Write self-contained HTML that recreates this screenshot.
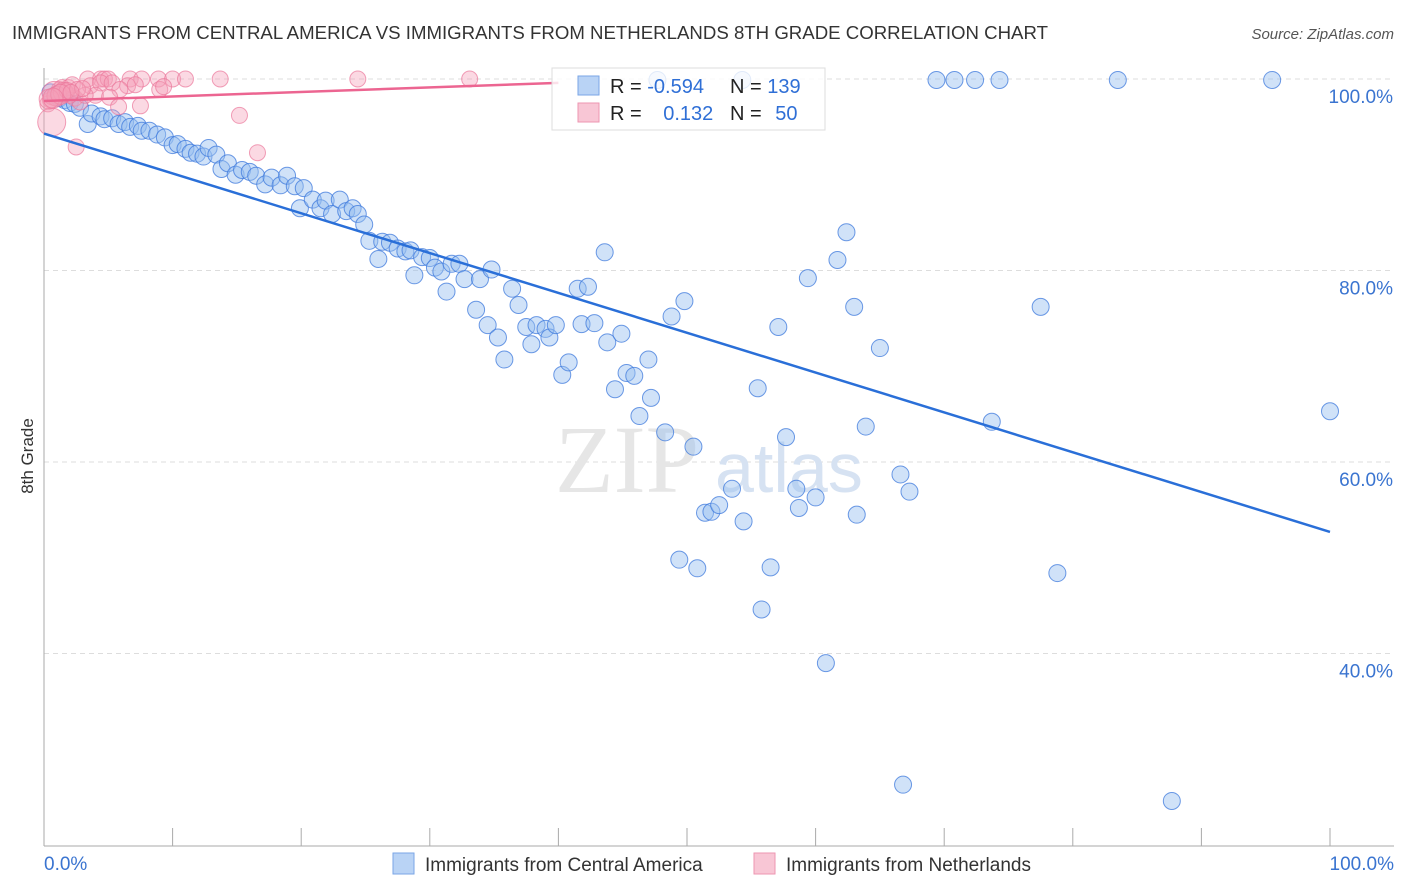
<!DOCTYPE html>
<html><head><meta charset="utf-8"><style>
body{margin:0;background:#fff;font-family:"Liberation Sans",sans-serif;}
#wrap{position:relative;width:1406px;height:892px;overflow:hidden;}
</style></head><body>
<div id="wrap">
<svg id="svg" width="1406" height="892" xmlns="http://www.w3.org/2000/svg">
<text x="12" y="39" font-size="18" fill="#333" textLength="1036" lengthAdjust="spacingAndGlyphs">IMMIGRANTS FROM CENTRAL AMERICA VS IMMIGRANTS FROM NETHERLANDS 8TH GRADE CORRELATION CHART</text>
<text x="1394" y="39" font-size="15" fill="#555" font-style="italic" text-anchor="end">Source: ZipAtlas.com</text>
<text x="33" y="456" font-size="17" fill="#333" text-anchor="middle" transform="rotate(-90 33 456)">8th Grade</text>
<g id="grid"></g>
<text x="555" y="492" font-size="96" fill="#e6e6e6" font-family="Liberation Serif">ZIP</text>
<text x="715" y="492" font-size="70" fill="#d6e2f2">atlas</text>
<g id="marks"></g>
<g>
<rect x="552" y="68" width="273" height="62" fill="rgba(255,255,255,0.8)" stroke="#ddd"/>
<rect x="578" y="76" width="21" height="19" fill="#b9d3f5" stroke="#7aa6e6"/>
<rect x="578" y="103" width="21" height="19" fill="#f8c6d5" stroke="#ee96b1"/>
<text x="610" y="93" font-size="20" fill="#222">R = <tspan fill="#2f6fd6">-0.594</tspan></text>
<text x="730" y="93" font-size="20" fill="#222">N = <tspan fill="#2f6fd6">139</tspan></text>
<text x="610" y="120" font-size="20" fill="#222">R = <tspan fill="#2f6fd6" dx="16">0.132</tspan></text>
<text x="730" y="120" font-size="20" fill="#222">N = <tspan fill="#2f6fd6" dx="8">50</tspan></text>
</g>
<g>
<rect x="393" y="853" width="21" height="21" fill="#b9d3f5" stroke="#7aa6e6"/>
<text x="425" y="871" font-size="19" fill="#333">Immigrants from Central America</text>
<rect x="754" y="853" width="21" height="21" fill="#f8c6d5" stroke="#ee96b1"/>
<text x="786" y="871" font-size="19" fill="#333">Immigrants from Netherlands</text>
</g>
</svg>
</div>
<script>
const blueX=[0.5,0.9,1.2,1.6,2.0,2.4,2.8,3.4,3.7,4.4,4.7,5.3,5.8,6.3,6.7,7.3,7.6,8.2,8.8,9.4,10.0,10.4,11.0,11.4,11.9,12.4,12.8,13.4,13.8,14.3,14.9,15.4,16.0,16.5,17.2,17.7,18.4,18.9,19.5,20.2,19.9,20.9,21.5,21.9,22.4,23.0,23.5,24.0,24.4,24.9,25.3,26.0,26.3,26.9,27.5,28.1,28.5,28.8,29.4,30.0,30.4,30.9,31.3,31.7,32.3,32.7,33.6,33.9,34.5,34.8,35.3,35.8,36.4,36.9,37.5,37.9,38.3,39.0,39.3,39.8,40.3,40.8,41.5,41.8,42.3,42.8,43.6,43.8,44.4,44.9,45.3,45.9,46.3,47.0,47.2,48.3,48.8,49.4,49.8,50.5,50.8,51.4,51.9,52.5,53.5,54.4,55.5,55.8,56.5,57.1,57.7,58.5,58.7,59.4,60.0,60.8,61.7,62.4,63.0,63.2,63.9,65.0,66.6,66.8,67.3,69.4,70.8,72.4,74.3,73.7,77.5,78.8,83.5,87.7,95.5,100,47.7,54.3];
const blueY=[98.6,98.3,98.0,97.8,97.5,97.4,97.0,95.3,96.4,96.1,95.8,95.9,95.3,95.5,95.0,95.1,94.6,94.6,94.2,93.9,93.1,93.2,92.7,92.3,92.2,91.9,92.8,92.1,90.6,91.2,90.0,90.5,90.3,89.9,89.0,89.7,88.9,89.9,88.8,88.6,86.5,87.4,86.5,87.3,85.9,87.4,86.2,86.5,85.9,84.8,83.1,81.2,83.0,82.9,82.3,82.0,82.1,79.5,81.4,81.3,80.3,79.9,77.8,80.7,80.7,79.1,75.9,79.1,74.3,80.1,73.0,70.7,78.1,76.4,74.1,72.3,74.3,73.9,73.0,74.3,69.1,70.4,78.1,74.4,78.3,74.5,81.9,72.5,67.6,73.4,69.3,69.0,64.8,70.7,66.7,63.1,75.2,49.8,76.8,61.6,48.9,54.7,54.8,55.5,57.2,53.8,67.7,44.6,49.0,74.1,62.6,57.2,55.2,79.2,56.3,39.0,81.1,84.0,76.2,54.5,63.7,71.9,58.7,26.3,56.9,99.9,99.9,99.9,99.9,64.2,76.2,48.4,99.9,24.6,99.9,65.3,99.9,99.9];
const pinkX=[3.4,4.4,4.7,5.0,6.7,7.6,8.9,10.0,11.0,13.7,24.4,33.1,3.6,4.4,5.3,6.5,7.1,9.0,9.3,5.9,4.0,5.1,7.5,2.4,2.8,1.2,1.6,2.0,0.9,0.5,0.3,0.6,2.5,15.2,16.6,1.9,3.2,5.8,1.4,2.2,0.8,1.0,1.5,1.8,2.6,3.0,0.4,1.3,2.1,0.7];
const pinkY=[100,100,100,100,100,100,100,100,100,100,100,100,99.3,99.6,99.6,99.3,99.4,98.9,99.2,98.9,98.3,98.1,97.2,98.0,97.6,98.9,98.7,98.3,98.3,97.8,97.4,95.5,92.9,96.2,92.3,99.1,98.3,97.1,99.1,99.4,98.5,98.2,98.6,98.8,98.9,99.0,97.9,98.4,98.6,98.0];
const pinkR=[8,8,8,8,8,8,8,8,8,8,8,8,8,8,8,8,8,8,8,8,8,8,8,8,8,8,8,8,8,8,8,14,8,8,8,8,8,8,8,8,12,10,10,8,8,8,10,10,8,10];
const blueTrend=[94.3,52.7];
const pinkTrend=[97.7,99.6,40];
const yTicks=[100,80,60,40];
const yTickLabels=["100.0%","80.0%","60.0%","40.0%"];
const xTicks=[0,10,20,30,40,50,60,70,80,90,100];
const xTickLabels=["0.0%","100.0%"];

const NS="http://www.w3.org/2000/svg";
const X=v=>44+v*12.86;
const Y=v=>79+(100-v)*9.575;
function el(tag,attrs,parent){const e=document.createElementNS(NS,tag);for(const k in attrs)e.setAttribute(k,attrs[k]);parent.appendChild(e);return e;}
const grid=document.getElementById('grid'),marks=document.getElementById('marks');
yTicks.forEach((t,i)=>{
 const l=el('line',{x1:44,x2:1394,y1:Y(t),y2:Y(t),stroke:'#ddd','stroke-dasharray':'5,4'},grid);
 
 
 const tx=el('text',{x:1393,y:Y(t)+24,'font-size':19,fill:'#3a74d0','text-anchor':'end'},grid);
 tx.textContent=yTickLabels[i];
 
 
});
const ax=el('line',{x1:44,x2:44,y1:68,y2:846,stroke:'#aaa'},grid);


const bx=el('line',{x1:44,x2:1394,y1:846,y2:846,stroke:'#aaa'},grid);


xTicks.forEach(t=>{
 const l=el('line',{x1:X(t),x2:X(t),y1:828,y2:846,stroke:'#aaa'},grid);
 
 
});
[[0,'start',xTickLabels[0],44],[100,'end',xTickLabels[1],1394]].forEach(a=>{
 const t=el('text',{x:a[3],y:870,'font-size':19,fill:'#3a74d0','text-anchor':a[1]},grid);
 t.textContent=a[2];
 
 
});
blueX.forEach((x,i)=>{
 const c=el('circle',{cx:X(x),cy:Y(blueY[i]),r:8.5,fill:'rgba(150,190,240,0.45)',stroke:'rgba(60,120,220,0.75)','stroke-width':1},marks);
 
 
});
pinkX.forEach((x,i)=>{
 const c=el('circle',{cx:X(x),cy:Y(pinkY[i]),r:pinkR[i],fill:'rgba(245,160,185,0.4)',stroke:'rgba(235,120,155,0.7)','stroke-width':1},marks);
 
 
});
const bl=el('line',{x1:X(0),y1:Y(blueTrend[0]),x2:X(100),y2:Y(blueTrend[1]),stroke:'#2a6fd8','stroke-width':2.5},marks);


const pl=el('line',{x1:X(0),y1:Y(pinkTrend[0]),x2:X(pinkTrend[2]),y2:Y(pinkTrend[1]),stroke:'#ec6591','stroke-width':2.5},marks);


</script>
</body></html>
